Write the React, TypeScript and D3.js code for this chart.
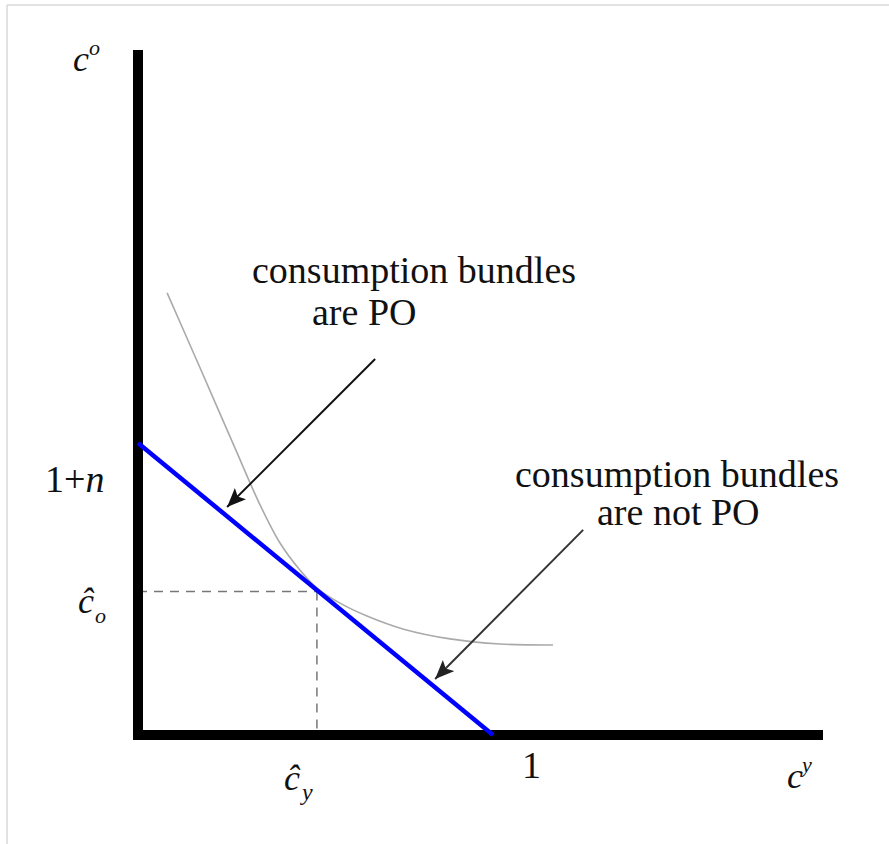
import React from "react";
import * as d3 from "d3";

// Data (model units)
const interceptN = [0.2]; // n, so the budget line meets the c^o axis at 1+n
const budgetX = [0, 1];
const budgetY = [1.2, 0];
const hatCy = [0.504];
const hatCo = [0.59];
const curveX = [0.082, 0.175, 0.273, 0.344, 0.4, 0.456, 0.504, 0.569, 0.645, 0.746, 0.879, 1.02, 1.169];
const curveY = [1.817, 1.508, 1.18, 0.945, 0.789, 0.678, 0.604, 0.542, 0.489, 0.436, 0.395, 0.374, 0.37];
const arrowFromX = [0.668, 1.254];
const arrowFromY = [1.545, 0.843];
const arrowToX = [0.251, 0.837];
const arrowToY = [0.937, 0.23];
const labelLines1 = ["consumption bundles", "are PO"];
const labelLines2 = ["consumption bundles", "are not PO"];

const W = 889;
const H = 844;

export default function App() {
  const x = d3.scaleLinear().domain([0, 1]).range([138, 493]);
  const y = d3.scaleLinear().domain([0, 1 + interceptN[0]]).range([735, 443]);
  const xMax = x.invert(823);
  const yMax = y.invert(50);

  const curvePts: [number, number][] = curveX.map((v, i) => [v, curveY[i]]);
  const lineGen = d3
    .line<[number, number]>()
    .x((d) => x(d[0]))
    .y((d) => y(d[1]))
    .curve(d3.curveCatmullRom.alpha(0.5));

  const serif = "'Liberation Serif', 'Times New Roman', serif";

  return (
    <svg
      width={W}
      height={H}
      style={{ position: "absolute", left: 0, top: 0, background: "#fff" }}
      fontFamily={serif}
    >
      <defs>
        <marker
          id="ah"
          markerUnits="userSpaceOnUse"
          markerWidth={22}
          markerHeight={18}
          refX={19}
          refY={8}
          orient="auto"
        >
          <path d="M0,0 L19,8 L0,16 L4,8 Z" fill="#111" />
        </marker>
        <marker
          id="ah2"
          markerUnits="userSpaceOnUse"
          markerWidth={22}
          markerHeight={18}
          refX={19}
          refY={8}
          orient="auto"
        >
          <path d="M0,0 L19,8 L0,16 L4,8 Z" fill="#222" />
        </marker>
      </defs>
      {/* faint frame */}
      <line x1={7} y1={5} x2={W} y2={5} stroke="#d8d8d8" strokeWidth={1.5} />
      <line x1={7} y1={5} x2={7} y2={H} stroke="#d8d8d8" strokeWidth={1.5} />

      {/* dashed guides */}
      <line
        x1={x(0)}
        y1={y(hatCo[0])}
        x2={x(hatCy[0])}
        y2={y(hatCo[0])}
        stroke="#777"
        strokeWidth={1.5}
        strokeDasharray="9,7"
      />
      <line
        x1={x(hatCy[0])}
        y1={y(hatCo[0])}
        x2={x(hatCy[0])}
        y2={y(0)}
        stroke="#777"
        strokeWidth={1.5}
        strokeDasharray="9,7"
      />

      {/* indifference curve */}
      <path d={lineGen(curvePts) || ""} fill="none" stroke="#aaa" strokeWidth={1.6} />

      {/* axes */}
      <line x1={x(0)} y1={y(yMax)} x2={x(0)} y2={y(0) + 5} stroke="#000" strokeWidth={10} />
      <line x1={x(0) - 5} y1={y(0)} x2={x(xMax)} y2={y(0)} stroke="#000" strokeWidth={10} />

      {/* budget line */}
      <line
        x1={x(budgetX[0])}
        y1={y(budgetY[0])}
        x2={x(budgetX[1])}
        y2={y(budgetY[1])}
        stroke="#0000ff"
        strokeWidth={4.5}
      />

      {/* arrows */}
      {arrowFromX.map((v, i) => (
        <line
          key={i}
          x1={x(v)}
          y1={y(arrowFromY[i])}
          x2={x(arrowToX[i])}
          y2={y(arrowToY[i])}
          stroke={i === 0 ? "#111" : "#333"}
          strokeWidth={2}
          markerEnd={i === 0 ? "url(#ah)" : "url(#ah2)"}
        />
      ))}

      {/* annotation texts */}
      <g fontSize={38} fill="#111">
        <text x={252} y={283}>{labelLines1[0]}</text>
        <text x={312} y={325}>{labelLines1[1]}</text>
        <text x={515} y={487}>{labelLines2[0]}</text>
        <text x={597} y={525}>{labelLines2[1]}</text>
      </g>

      {/* axis labels */}
      <g fill="#111">
        <text x={73} y={71} fontSize={36} fontStyle="italic">c</text>
        <text x={89} y={55} fontSize={22} fontStyle="italic">o</text>

        <text x={45} y={492} fontSize={38}>
          1+<tspan fontStyle="italic">n</tspan>
        </text>

        <text x={78} y={613} fontSize={36} fontStyle="italic">ĉ</text>
        <text x={95} y={623} fontSize={22} fontStyle="italic">o</text>

        <text x={284} y={790} fontSize={36} fontStyle="italic">ĉ</text>
        <text x={302} y={800} fontSize={24} fontStyle="italic">y</text>

        <text x={522} y={778} fontSize={38}>1</text>

        <text x={787} y={788} fontSize={36} fontStyle="italic">c</text>
        <text x={802} y={772} fontSize={22} fontStyle="italic">y</text>
      </g>
    </svg>
  );
}
